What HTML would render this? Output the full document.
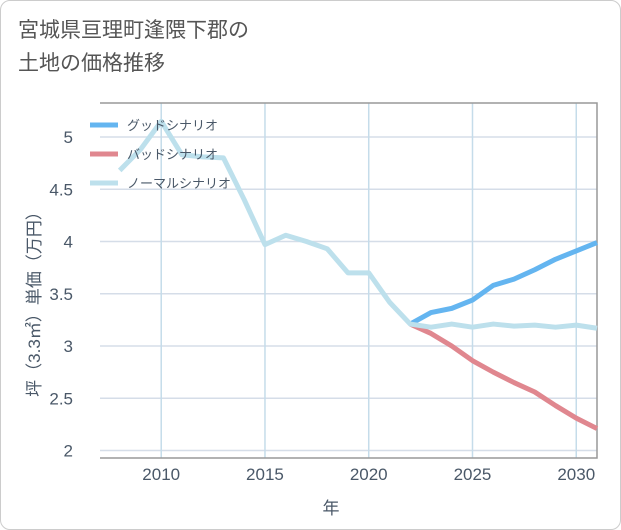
<!DOCTYPE html>
<html><head><meta charset="utf-8"><style>
body{margin:0;background:#fff;font-family:"Liberation Sans","Noto Sans CJK JP",sans-serif}
#card{position:absolute;left:0;top:0;width:619px;height:528px;border:1px solid #ccc;border-radius:10px;background:#fff}
#title{position:absolute;left:18px;top:14px;font-size:21px;line-height:33px;color:#555}
</style></head><body>
<div id="card"></div>
<div id="title">宮城県亘理町逢隈下郡の<br>土地の価格推移</div>
<svg id="chart" width="621" height="530" style="position:absolute;left:0;top:0"></svg>
<script>
const normalYears=[2008,2009,2010,2011,2012,2013,2014,2015,2016,2017,2018,2019,2020,2021,2022,2023,2024,2025,2026,2027,2028,2029,2030,2031];
const normalValues=[4.68,4.88,5.15,4.83,4.81,4.8,4.4,3.97,4.06,4.0,3.93,3.70,3.70,3.42,3.21,3.18,3.21,3.18,3.21,3.19,3.20,3.18,3.20,3.17];
const futureYears=[2022,2023,2024,2025,2026,2027,2028,2029,2030,2031];
const goodValues=[3.21,3.32,3.36,3.44,3.58,3.64,3.73,3.83,3.91,3.99];
const badValues=[3.21,3.12,3.0,2.86,2.75,2.65,2.56,2.43,2.31,2.21];
const xTicks=[2010,2015,2020,2025,2030];
const yTicks=[2,2.5,3,3.5,4,4.5,5];
const L=100,R=597,T=103,B=458;
const TXT='#4a5868';
const x=v=>L+(v-2007.05)/(2031-2007.05)*(R-L);
const y=v=>137+(5-v)*104.5;
const svg=document.getElementById('chart');
const NS='http://www.w3.org/2000/svg';
function mk(tag,attrs,parent){const e=document.createElementNS(NS,tag);for(const k in attrs)e.setAttribute(k,attrs[k]);(parent||svg).appendChild(e);return e;}
yTicks.forEach(t=>{
  const g=mk('line',{x1:L,x2:R,y1:y(t),y2:y(t),stroke:'#d5dde8','stroke-width':1.5});
  
  
  const tx=mk('text',{x:L-27,y:y(t)+6,'text-anchor':'end','font-size':17,fill:TXT});
  tx.textContent=String(t);
  
  
});
xTicks.forEach(t=>{
  const g=mk('line',{x1:x(t),x2:x(t),y1:T,y2:B,stroke:'#c5dcea','stroke-width':1.5});
  
  
  const tx=mk('text',{x:x(t),y:480,'text-anchor':'middle','font-size':17,fill:TXT});
  tx.textContent=String(t);
  
  
});
const fr=mk('path',{d:`M${L} ${T}H${R}V${B}H${L}`,fill:'none',stroke:'#999','stroke-width':1.5});


function line(xs,vs,color,name){
  const p=mk('polyline',{points:xs.map((d,i)=>x(d)+','+y(vs[i])).join(' '),fill:'none',stroke:color,'stroke-width':5,'stroke-linejoin':'round'});
  
  
}
line(futureYears,badValues,'#e0878f','bad-scenario-line');
line(futureYears,goodValues,'#64b5f0','good-scenario-line');
line(normalYears,normalValues,'#bde0ec','normal-scenario-line');
const legend=[['グッドシナリオ','#64b5f0'],['バッドシナリオ','#e0878f'],['ノーマルシナリオ','#bde0ec']];
legend.forEach((l,i)=>{
  const yy=125+i*29;
  const s=mk('line',{x1:90,x2:118,y1:yy,y2:yy,stroke:l[1],'stroke-width':5});
  
  
  const t=mk('text',{x:127,y:yy+5,'font-size':13,fill:TXT});
  t.textContent=l[0];
  
  
});
const xt=mk('text',{x:331,y:514,'text-anchor':'middle','font-size':17,fill:TXT});
xt.textContent='年';


const yt=mk('text',{x:0,y:0,'text-anchor':'middle','font-size':17,fill:TXT,transform:'translate(40 300) rotate(-90)'});
yt.textContent='坪（3.3㎡）単価（万円）';


</script>
</body></html>
